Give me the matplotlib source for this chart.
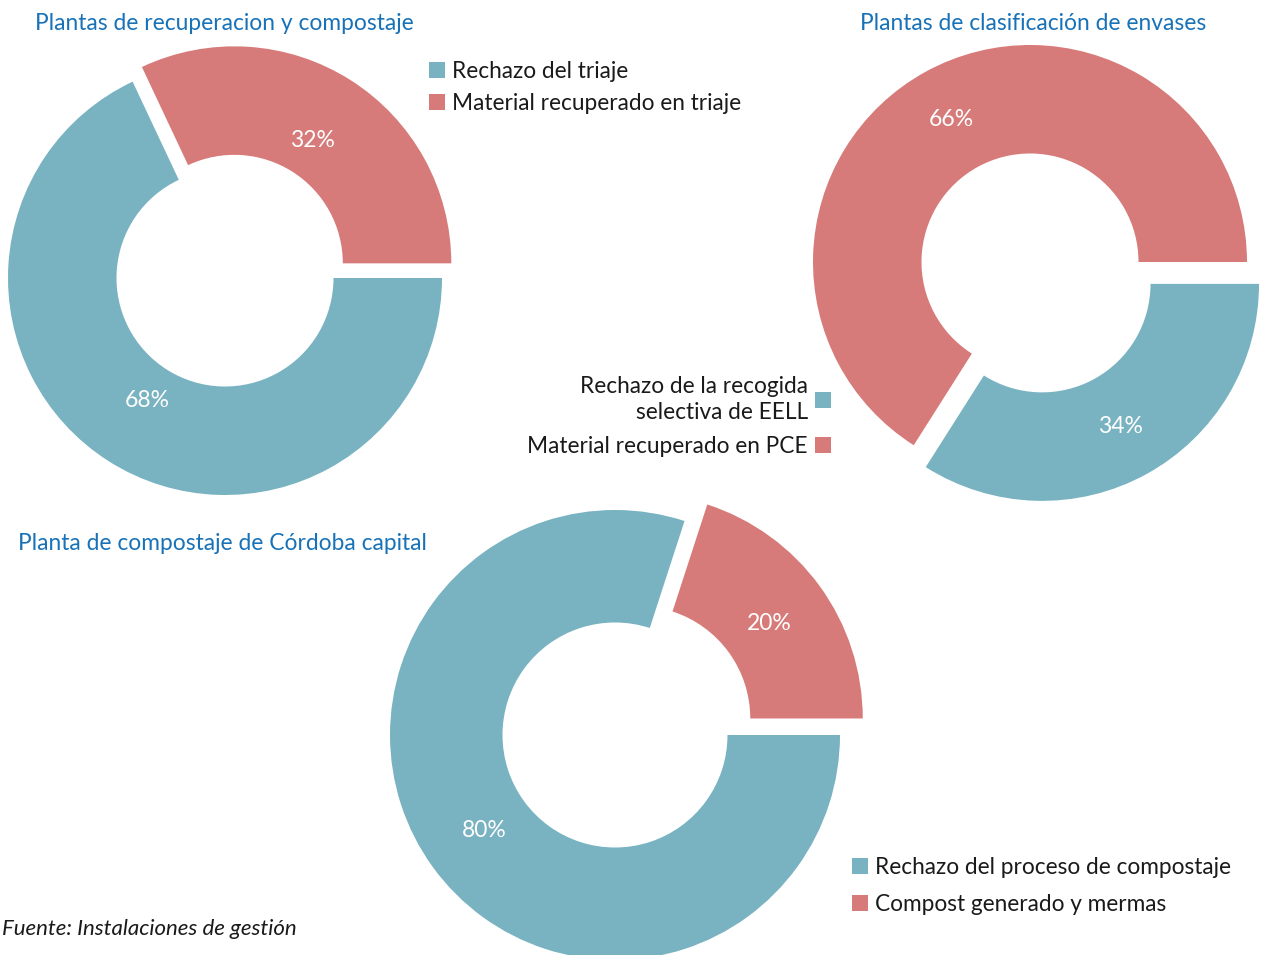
import matplotlib.pyplot as plt

W, H = 1266, 955

teal = "#79b3c1"
red = "#d77b7a"
blue = "#1872b8"
dark = "#1a1a1a"

# datos
recup_labels = ["Rechazo del triaje", "Material recuperado en triaje"]
recup_values = [68, 32]

envases_labels = ["Rechazo de la recogida\nselectiva de EELL", "Material recuperado en PCE"]
envases_values = [34, 66]

compost_labels = ["Rechazo del proceso de compostaje", "Compost generado y mermas"]
compost_values = [80, 20]

plt.rcParams['font.family'] = ['Lato', 'DejaVu Sans']

fig = plt.figure(figsize=(W / 100, H / 100), dpi=100)


def fx(x):
    return x / W


def fy(y):
    return 1 - y / H


def donut(cx, cy, r, values, explode, pctdist):
    ax = fig.add_axes([fx(cx - r), fy(cy + r), 2 * r / W, 2 * r / H])
    start = 360 * values[1] / sum(values)
    wedges, _, autotexts = ax.pie(
        values, colors=[teal, red], startangle=start, counterclock=True,
        explode=explode, autopct="%d%%", pctdistance=pctdist,
        wedgeprops=dict(width=0.5, linewidth=0, clip_on=False),
        textprops=dict(color="white", fontsize=16.5))
    ax.set_xlim(-1, 1)
    ax.set_ylim(-1, 1)
    ax.axis("off")
    return wedges


w1 = donut(225, 278, 217, recup_values, [0, 0.08], 0.67)
w2 = donut(1030, 262, 217, envases_values, [0.115, 0], 0.75)
w3 = donut(615, 735, 225, compost_values, [0, 0.125], 0.72)

legend_kw = dict(frameon=False, fontsize=16.3, handlelength=0.72, handleheight=0.72,
                 handletextpad=0.3, borderpad=0, borderaxespad=0, labelcolor=dark)

fig.legend(w1, recup_labels, loc="upper left", bbox_to_anchor=(fx(429), fy(61)),
           labelspacing=0.5, **legend_kw)
leg2 = fig.legend(w2, envases_labels, loc="upper right", bbox_to_anchor=(fx(831), fy(376)),
                  labelspacing=0.55, markerfirst=False, alignment="right", **legend_kw)
for t in leg2.get_texts():
    t.set_multialignment("right")
    t.set_linespacing(1.3)
fig.legend(w3, compost_labels, loc="upper left", bbox_to_anchor=(fx(852), fy(857)),
           labelspacing=0.72, **legend_kw)

fig.text(fx(35), fy(23), "Plantas de recuperacion y compostaje", color=blue,
         fontsize=16.4, ha="left", va="center")
fig.text(fx(1206), fy(24), "Plantas de clasificación de envases", color=blue,
         fontsize=16.4, ha="right", va="center")
fig.text(fx(18), fy(543), "Planta de compostaje de Córdoba capital", color=blue,
         fontsize=16.4, ha="left", va="center")
fig.text(fx(2), fy(929), "Fuente: Instalaciones de gestión", color=dark,
         fontsize=16, style="italic", ha="left", va="center")

fig.savefig("out.png", dpi=100)
